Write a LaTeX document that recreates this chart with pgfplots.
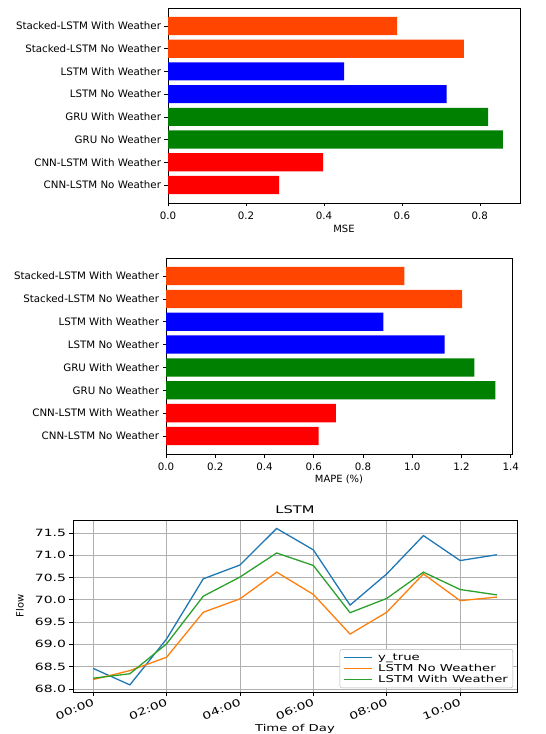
\documentclass[border=0pt]{standalone}
\usepackage{fontspec}
\setmainfont{DejaVu Sans}
\usepackage{graphicx}
\usepackage{pgfplots}
\pgfplotsset{compat=1.18}
\newcommand{\ws}[1]{\scalebox{1.4}[1]{#1}}
\definecolor{orangered}{HTML}{FF4500}
\definecolor{mblue}{HTML}{0000FF}
\definecolor{mgreen}{HTML}{008000}
\definecolor{mred}{HTML}{FF0000}
\definecolor{tabblue}{HTML}{1F77B4}
\definecolor{taborange}{HTML}{FF7F0E}
\definecolor{tabgreen}{HTML}{2CA02C}
\definecolor{gridc}{HTML}{B0B0B0}
\pgfplotsset{
  barstyle/.style={
    scale only axis, xbar, bar width=0.8, xmin=0, ymin=-0.79, ymax=7.79,
    ytick={0,...,7},
    yticklabels={CNN-LSTM No Weather, CNN-LSTM With Weather, GRU No Weather, GRU With Weather, LSTM No Weather, LSTM With Weather, Stacked-LSTM No Weather, Stacked-LSTM With Weather},
    tick align=outside, major tick length=3.5bp, xtick pos=left, ytick pos=left,
    tick style={black, line width=0.6bp}, axis line style={black, line width=0.6bp},
    /pgf/number format/assume math mode=true,
    tick label style={font=\fontsize{10.3}{12}\selectfont},
    xticklabel style={yshift=-2bp, /pgf/number format/fixed, /pgf/number format/fixed zerofill, /pgf/number format/precision=1},
    label style={font=\fontsize{10}{12}\selectfont},
  }
}
\begin{document}
\begin{tikzpicture}
% ---------- MSE ----------
\begin{axis}[barstyle, at={(168bp,-8bp)}, anchor=north west, width=352bp, height=195bp,
  xmax=0.903, xtick={0,0.2,0.4,0.6,0.8},
  xlabel={MSE}, every axis x label/.style={at={(axis description cs:0.5,0)}, anchor=base, yshift=-30bp}]
\addplot[fill=mred, draw=none, bar shift=0pt] coordinates {(0.285,0) (0.398,1)};
\addplot[fill=mgreen, draw=none, bar shift=0pt] coordinates {(0.859,2) (0.821,3)};
\addplot[fill=mblue, draw=none, bar shift=0pt] coordinates {(0.715,4) (0.452,5)};
\addplot[fill=orangered, draw=none, bar shift=0pt] coordinates {(0.759,6) (0.588,7)};
\end{axis}
% ---------- MAPE ----------
\begin{axis}[barstyle, at={(166bp,-258bp)}, anchor=north west, width=346bp, height=196bp,
  xmax=1.405, xtick={0,0.2,0.4,0.6,0.8,1.0,1.2,1.4},
  xlabel={MAPE (\%)}, every axis x label/.style={at={(axis description cs:0.5,0)}, anchor=base, yshift=-28.5bp}]
\addplot[fill=mred, draw=none, bar shift=0pt] coordinates {(0.620,0) (0.690,1)};
\addplot[fill=mgreen, draw=none, bar shift=0pt] coordinates {(1.337,2) (1.252,3)};
\addplot[fill=mblue, draw=none, bar shift=0pt] coordinates {(1.131,4) (0.883,5)};
\addplot[fill=orangered, draw=none, bar shift=0pt] coordinates {(1.202,6) (0.968,7)};
\end{axis}
% ---------- LSTM line chart ----------
\begin{axis}[scale only axis, at={(73bp,-520bp)}, anchor=north west, width=444bp, height=172bp,
  xmin=-0.55, xmax=11.55, ymin=67.93, ymax=71.79,
  xtick={0,2,4,6,8,10}, xticklabels={\ws{00:00},\ws{02:00},\ws{04:00},\ws{06:00},\ws{08:00},\ws{10:00}},
  ytick={68,68.5,69,69.5,70,70.5,71,71.5},
  tick align=outside, major tick length=3.5bp, xtick pos=left, ytick pos=left,
  tick style={black, line width=0.6bp}, axis line style={black, line width=0.6bp},
  grid=major, grid style={gridc, line width=0.6bp},
  /pgf/number format/assume math mode=true,
  tick label style={font=\fontsize{10}{12}\selectfont},
  yticklabel={\ws{\pgfmathprintnumber[fixed,fixed zerofill,precision=1]{\tick}}},
  xticklabel style={rotate=22, anchor=north east, inner sep=2bp},
  title={\ws{LSTM}}, every axis title/.style={font=\fontsize{10.5}{12}\selectfont, at={(axis description cs:0.5,1)}, anchor=base, yshift=6.4bp},
  xlabel={\ws{Time of Day}}, every axis x label/.style={font=\fontsize{9.5}{12}\selectfont, at={(axis description cs:0.5,0)}, anchor=base, yshift=-39.6bp},
  ylabel={Flow}, every axis y label/.style={font=\fontsize{10}{12}\selectfont, at={(axis description cs:-0.111,0.5)}, rotate=90, anchor=base},
  legend cell align=left,
  legend style={at={(axis description cs:0.991,0.023)}, anchor=south east,
    draw=gridc, fill=white, rounded corners=2bp, font=\fontsize{9.5}{11}\selectfont, row sep=-1.5bp,
    /tikz/every odd column/.append style={column sep=4bp}},
  legend image code/.code={\draw[#1, line width=1.3bp] (0bp,0bp) -- (28bp,0bp);},
]
\addplot[tabblue, line width=1.3bp] coordinates {(0,68.46) (1,68.09) (2,69.12) (3,70.47) (4,70.78) (5,71.60) (6,71.12) (7,69.88) (8,70.58) (9,71.44) (10,70.88) (11,71.01)};
\addlegendentry{\ws{y\_true}}
\addplot[taborange, line width=1.3bp] coordinates {(0,68.21) (1,68.41) (2,68.71) (3,69.72) (4,70.02) (5,70.62) (6,70.12) (7,69.23) (8,69.72) (9,70.58) (10,69.98) (11,70.06)};
\addlegendentry{\ws{LSTM No Weather}}
\addplot[tabgreen, line width=1.3bp] coordinates {(0,68.24) (1,68.34) (2,69.01) (3,70.08) (4,70.51) (5,71.05) (6,70.77) (7,69.71) (8,70.03) (9,70.62) (10,70.23) (11,70.11)};
\addlegendentry{\ws{LSTM With Weather}}
\end{axis}
\pgfresetboundingbox
\useasboundingbox (0,0) rectangle (546bp,-734bp);
\end{tikzpicture}
\end{document}
